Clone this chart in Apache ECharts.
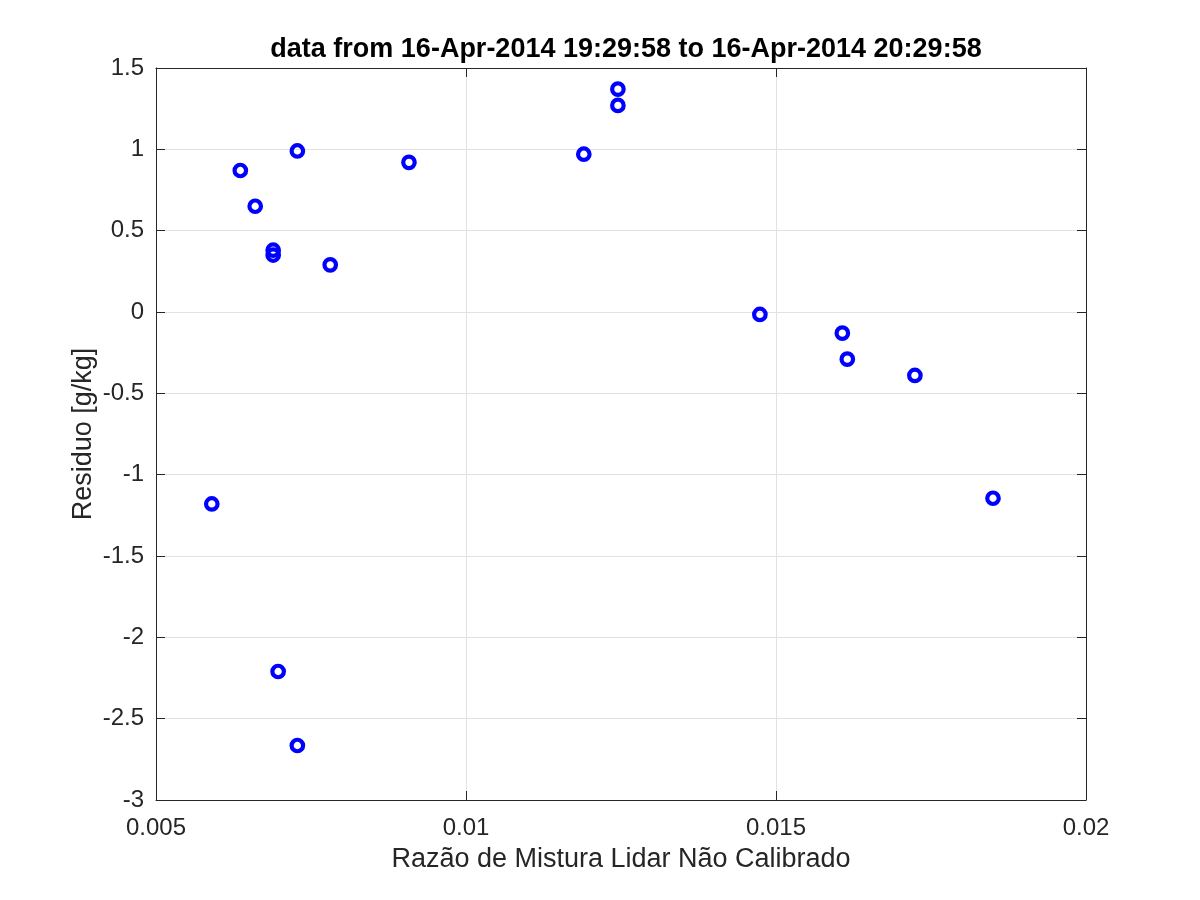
<!DOCTYPE html>
<html>
<head>
<meta charset="utf-8">
<script src="https://cdn.jsdelivr.net/npm/echarts@6/dist/echarts.min.js"></script>
<style>
    html, body { margin: 0; padding: 0; background: #fff; }
    #chartWrap { width: 1200px; height: 900px; }
</style>
</head>
<body>
<div id="chartWrap"></div>
<script>
// values
const mixRatio = [0.00590, 0.00636, 0.00660, 0.00689, 0.00689, 0.00728, 0.00781, 0.00908,
    0.01190, 0.01245, 0.01245, 0.01474, 0.01607, 0.01615, 0.01724, 0.01850, 0.00697, 0.00728];
const residuo = [-1.18, 0.87, 0.65, 0.38, 0.35, 0.99, 0.29, 0.92,
    0.97, 1.37, 1.27, -0.015, -0.13, -0.29, -0.39, -1.145, -2.21, -2.665];
const xTicks = [0.005, 0.01, 0.015, 0.02];
const yTicks = [-3, -2.5, -2, -1.5, -1, -0.5, 0, 0.5, 1, 1.5];

const font = 'Liberation Sans, Arial, Helvetica, sans-serif';
const axisColor = '#262626';

let points = mixRatio.map(function (x, i) {
    return [x, residuo[i]];
});

let myChart = echarts.init(document.getElementById('chartWrap'));

function pickTick(list, v) {
    let s = list.find(function (t) { return Math.abs(t - v) < 1e-9; });
    return s === undefined ? '' : String(s);
}

const baseX = {
    type: 'value',
    min: 0.005,
    max: 0.02,
    interval: 0.005,
    axisLine: {show: true, onZero: false, lineStyle: {color: axisColor, width: 1}},
    axisTick: {show: true, inside: true, length: 9, lineStyle: {color: axisColor}},
    splitLine: {show: true, lineStyle: {color: '#e2e2e2', width: 1}}
};
const baseY = {
    type: 'value',
    min: -3,
    max: 1.5,
    interval: 0.5,
    axisLine: {show: true, onZero: false, lineStyle: {color: axisColor, width: 1}},
    axisTick: {show: true, inside: true, length: 9, lineStyle: {color: axisColor}},
    splitLine: {show: true, lineStyle: {color: '#e2e2e2', width: 1}}
};

myChart.setOption({
    animation: false,
    backgroundColor: '#ffffff',
    title: {
        text: 'data from 16-Apr-2014 19:29:58 to 16-Apr-2014 20:29:58',
        left: 621,
        textAlign: 'center',
        top: 31,
        textStyle: {fontFamily: font, fontSize: 27, fontWeight: 'bold', color: '#000'}
    },
    grid: {left: 156, right: 114, top: 68, bottom: 100},
    xAxis: [
        Object.assign({}, baseX, {
            position: 'bottom',
            name: 'Razão de Mistura Lidar Não Calibrado',
            nameLocation: 'middle',
            nameGap: 46,
            nameTextStyle: {fontFamily: font, fontSize: 27, color: axisColor},
            axisLabel: {
                margin: 16,
                fontFamily: font, fontSize: 24, color: axisColor,
                formatter: function (v) { return pickTick(xTicks, v); }
            }
        }),
        Object.assign({}, baseX, {
            position: 'top',
            axisLabel: {show: false},
            splitLine: {show: false}
        })
    ],
    yAxis: [
        Object.assign({}, baseY, {
            position: 'left',
            name: 'Residuo [g/kg]',
            nameLocation: 'middle',
            nameGap: 59,
            nameMoveOverlap: false,
            nameTextStyle: {fontFamily: font, fontSize: 27, color: axisColor},
            axisLabel: {
                margin: 12,
                fontFamily: font, fontSize: 24, color: axisColor,
                formatter: function (v) { return pickTick(yTicks, v); }
            }
        }),
        Object.assign({}, baseY, {
            position: 'right',
            axisLabel: {show: false},
            splitLine: {show: false}
        })
    ],
    series: [
        {
            name: 'residuo',
            type: 'scatter',
            xAxisIndex: 0,
            yAxisIndex: 0,
            symbol: 'circle',
            symbolSize: 11.5,
            itemStyle: {color: 'rgba(0,0,0,0)', borderColor: '#0000ff', borderWidth: 4.2, opacity: 1},
            data: points
        }
    ]
});
</script>
</body>
</html>
